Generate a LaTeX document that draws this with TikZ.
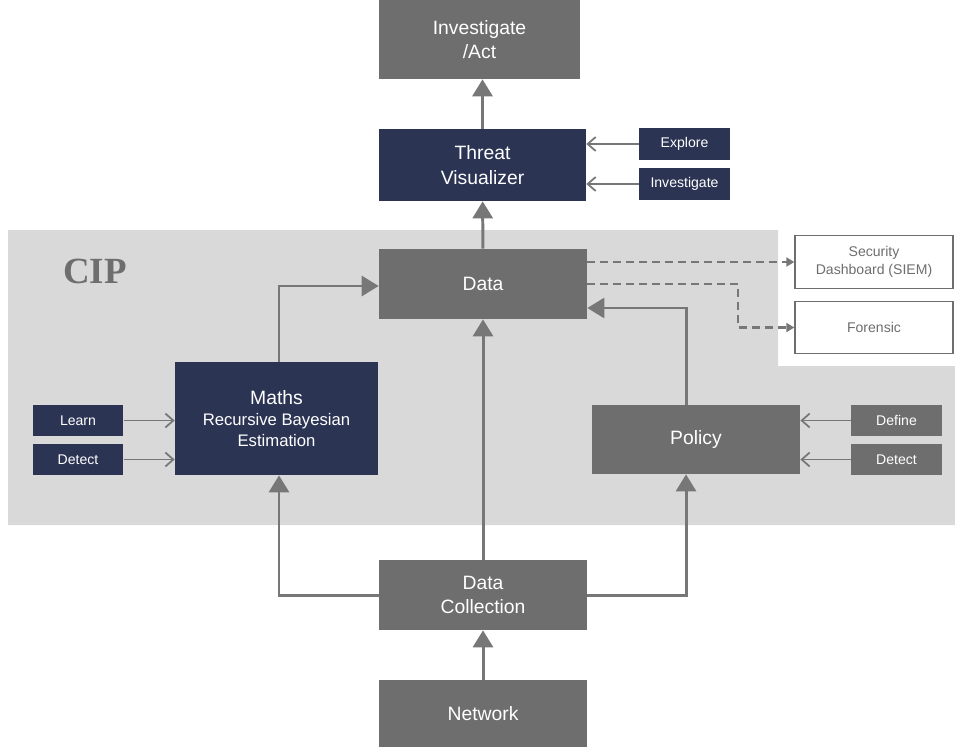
\documentclass[tikz,border=0pt]{standalone}
\usepackage{fontspec}
\setmainfont{Liberation Sans}
\newfontfamily\cipfont{Liberation Serif}
\usetikzlibrary{arrows.meta}
\definecolor{boxgray}{HTML}{6E6E6E}
\definecolor{boxnavy}{HTML}{2C3454}
\definecolor{cipgray}{HTML}{D9D9D9}
\definecolor{linegray}{HTML}{777777}
\newcommand{\subtext}[1]{{\fontsize{9.5}{12.5}\selectfont #1}}

\begin{document}
\begin{tikzpicture}[x=0.02cm, y=-0.02cm,
    bigbox/.style={fill=boxgray, text=white, font=\fontsize{11}{14}\selectfont, align=center,
        minimum width=4.16cm, minimum height=1.4cm, inner sep=0pt},
    navybox/.style={bigbox, fill=boxnavy},
    tagbox/.style={fill=#1, text=white, font=\fontsize{8}{10}\selectfont,
        minimum width=1.82cm, minimum height=0.63cm, inner sep=0pt},
    outbox/.style={draw=boxgray, line width=0.8pt, fill=white, text=boxgray, align=center,
        font=\fontsize{8}{10}\selectfont, minimum width=3.16cm, minimum height=1.05cm, inner sep=0pt},
    flow/.style={draw=linegray, line width=1.7pt, -{Triangle[length=0.34cm,width=0.4cm]}},
    feed/.style={draw=linegray, line width=1pt, -{Straight Barb[length=0.16cm,width=0.28cm]}},
    export/.style={draw=linegray, line width=1.3pt, dash pattern=on 0.16cm off 0.1cm,
        -{Triangle[length=0.16cm,width=0.18cm]}}]
    \useasboundingbox (0,0) rectangle (955,747);
    % CIP area
    \fill[cipgray] (8,230) -- (778,230) -- (778,366) -- (955,366) -- (955,525) -- (8,525) -- cycle;
    \node[text=boxgray, font=\cipfont\bfseries\fontsize{21}{24}\selectfont] (cip) at (95,271) {CIP};

    % main boxes
    \node[bigbox, minimum width=4.02cm, minimum height=1.58cm] (act) at (479.5,39.5) {Investigate\\/Act};
    \node[navybox, minimum width=4.14cm, minimum height=1.44cm] (vis) at (482.5,165) {Threat\\Visualizer};
    \node[bigbox] (data) at (483,284) {Data};
    \node[navybox, minimum width=4.06cm, minimum height=2.26cm] (maths) at (276.5,418.5)
        {Maths\\[-2pt]\subtext{Recursive Bayesian}\\[-2pt]\subtext{Estimation}};
    \node[bigbox, minimum height=1.38cm] (policy) at (696,439.5) {Policy};
    \node[bigbox] (coll) at (483,595) {Data\\Collection};
    \node[bigbox, minimum height=1.34cm] (net) at (483,713.5) {Network};

    % outputs
    \node[outbox] (siem) at (874,262) {Security\\Dashboard (SIEM)};
    \node[outbox] (forensic) at (874,327.5) {Forensic};

    % small input boxes
    \foreach \n/\t/\y in {explore/Explore/144, invest/Investigate/184}{
        \node[tagbox=boxnavy] (\n) at (684.5,\y) {\t};
        \draw[feed] (\n.west) -- (vis.east |- \n.west);
    }
    \foreach \n/\t/\y in {learn/Learn/420.5, detectl/Detect/459.5}{
        \node[tagbox=boxnavy] (\n) at (78,\y) {\t};
        \draw[feed] (\n.east) -- (maths.west |- \n.east);
    }
    \foreach \n/\t/\y in {define/Define/420.5, detectr/Detect/459.5}{
        \node[tagbox=boxgray] (\n) at (896.5,\y) {\t};
        \draw[feed] (\n.west) -- (policy.east |- \n.west);
    }

    % flows
    \draw[flow] (net) -- (coll);
    \draw[flow] (coll) -- (data);
    \draw[flow] (data) -- (vis);
    \draw[flow] (vis) -- (vis |- act.south);
    \draw[flow] (coll.west) -| ([xshift=0.05cm]maths.south);
    \draw[flow] (coll.east) -| ([xshift=-0.2cm]policy.south);
    \draw[flow] ([xshift=0.05cm]maths.north) |- ([yshift=-0.04cm]data.west);
    \draw[flow] ([xshift=-0.2cm]policy.north) |- ([yshift=-0.48cm]data.east);
    \draw[export] (data.east |- siem.west) -- (siem.west);
    \draw[export] (data.east) -- ++(151,0) |- (forensic.west);
\end{tikzpicture}
\end{document}
